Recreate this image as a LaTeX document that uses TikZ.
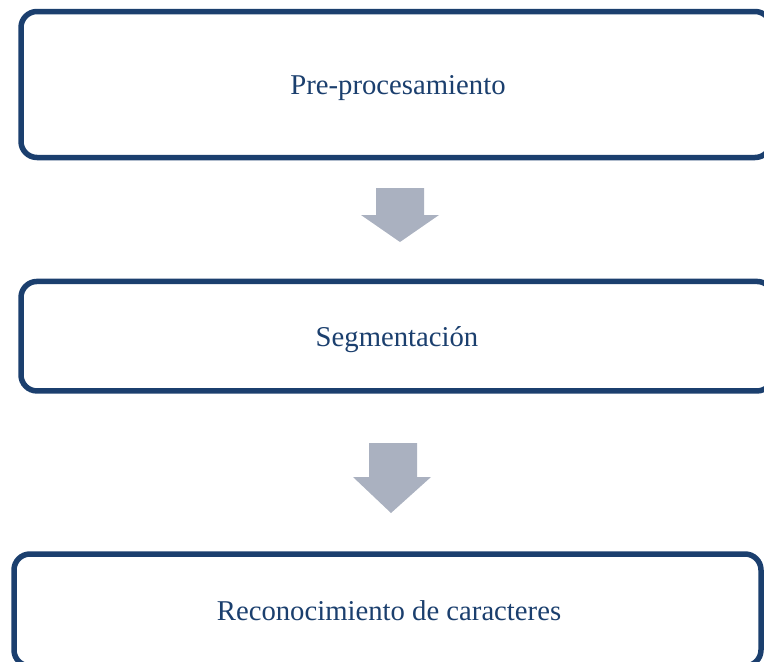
\documentclass[tikz,border=0pt]{standalone}
\usepackage{fontspec}
\setmainfont{Liberation Serif}
\definecolor{boxblue}{HTML}{1B3F6E}
\definecolor{arrowgray}{HTML}{AAB1C0}
\begin{document}
\begin{tikzpicture}[x=1pt,y=1pt,
  stepbox/.style={draw=boxblue, line width=5.5pt, rounded corners=16pt, fill=white, inner sep=0pt},
  lbl/.style={text=boxblue, font=\fontsize{28.7}{34}\selectfont},
  blockarrow/.style={fill=arrowgray, draw=none}]
\useasboundingbox (0,0) rectangle (764,-662);
\clip (0,0) rectangle (764,-662);
\node[stepbox, minimum width=750pt, minimum height=146pt] (b1) at (396,-84.5) {};
\node[stepbox, minimum width=752pt, minimum height=109.5pt] (b2) at (397,-336.2) {};
\node[stepbox, minimum width=747pt, minimum height=112pt] (b3) at (387.5,-610) {};
\node[lbl] (t1) at (398,-88) {Pre-procesamiento};
\node[lbl] (t2) at (397,-340) {Segmentación};
\node[lbl] (t3) at (389,-611) {Reconocimiento de caracteres};
% block arrows
\path[blockarrow] (376,-188) -- (424,-188) -- (424,-215) -- (439,-215) -- (400,-242) -- (361,-215) -- (376,-215) -- cycle;
\path[blockarrow] (369,-443) -- (417,-443) -- (417,-477) -- (431,-477) -- (391,-513) -- (353,-477) -- (369,-477) -- cycle;
\end{tikzpicture}
\end{document}
